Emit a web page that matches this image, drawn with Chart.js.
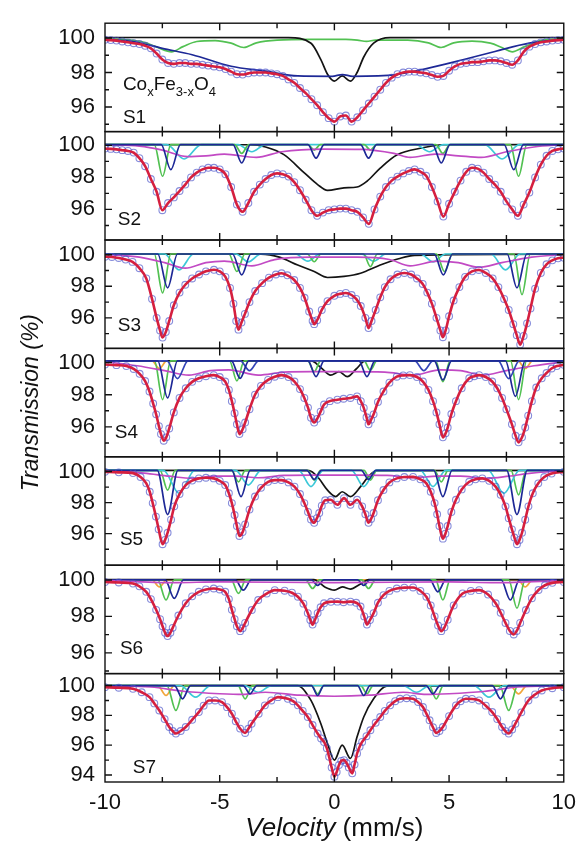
<!DOCTYPE html>
<html lang="en">
<head>
<meta charset="UTF-8">
<title>Mössbauer spectra CoxFe3-xO4</title>
<style>
  html, body { margin: 0; padding: 0; background: #fff; }
  #chart-container { width: 584px; height: 843px; }
</style>
</head>
<body>
<div id="chart-container">
  <canvas id="spectra" width="584" height="843"></canvas>
</div>
<script src="https://cdn.jsdelivr.net/npm/chart.js"></script>
<script>
// velocity grid (mm/s) used by S1 and S2
const velGrid = [-10,-9.75,-9.5,-9.25,-9,-8.75,-8.5,-8.25,-8,-7.75,-7.5,-7.25,-7,-6.75,-6.5,-6.25,-6,-5.75,-5.5,-5.25,
  -5,-4.75,-4.5,-4.25,-4,-3.75,-3.5,-3.25,-3,-2.75,-2.5,-2.25,-2,-1.75,-1.5,-1.25,-1,-0.75,-0.5,-0.25,
  0,0.25,0.5,0.75,1,1.25,1.5,1.75,2,2.25,2.5,2.75,3,3.25,3.5,3.75,4,4.25,4.5,4.75,
  5,5.25,5.5,5.75,6,6.25,6.5,6.75,7,7.25,7.5,7.75,8,8.25,8.5,8.75,9,9.25,9.5,9.75,10];

// total transmission (%) - measured points and fitted envelope
const trS1 = [99.9,99.88,99.85,99.8,99.75,99.7,99.65,99.55,99.4,99.1,
  98.75,98.55,98.5,98.55,98.55,98.5,98.5,98.45,98.4,98.35,
  98.3,98.2,98.05,97.9,97.88,97.95,98.0,98.0,98.0,97.95,
  97.9,97.8,97.6,97.4,97.1,96.8,96.45,96.1,95.7,95.35,
  95.15,95.45,95.5,95.15,95.4,95.8,96.2,96.6,97.0,97.4,
  97.7,97.9,98.0,98.05,98.05,98.0,97.95,97.85,97.75,97.8,
  98.1,98.35,98.5,98.55,98.6,98.6,98.65,98.7,98.7,98.65,
  98.55,98.45,98.7,99.2,99.5,99.65,99.75,99.8,99.85,99.88,99.9];
const trS2 = [99.8,99.78,99.75,99.7,99.65,99.55,99.2,98.7,97.9,97.1,
  95.95,96.4,96.75,97.15,97.55,98.0,98.3,98.5,98.6,98.6,
  98.5,98.2,97.4,96.3,95.85,96.4,97.1,97.55,97.9,98.15,
  98.25,98.2,98.05,97.7,97.2,96.6,95.95,95.6,95.8,95.95,
  96.0,96.05,96.05,95.95,95.85,95.5,95.1,96.0,96.8,97.4,
  97.8,98.05,98.25,98.4,98.5,98.35,98.1,97.4,96.5,95.55,
  96.35,97.1,97.8,98.35,98.6,98.55,98.3,97.9,97.55,97.1,
  96.5,96.0,95.6,96.3,97.05,98.0,98.8,99.35,99.65,99.75,99.8];
const fitS3 = [[-10,99.88],[-9.7,99.86],[-9.4,99.8],[-9.1,99.7],[-8.8,99.55],[-8.5,99.15],[-8.2,98.5],[-7.95,97.2],[-7.75,96.0],[-7.6,95.2],
  [-7.49,94.75],[-7.35,95.1],[-7.2,95.8],[-7.0,96.8],[-6.75,97.6],[-6.5,98.1],[-6.2,98.5],[-5.9,98.75],[-5.6,98.95],[-5.25,99.05],
  [-5.0,98.95],[-4.75,98.6],[-4.55,97.9],[-4.4,96.9],[-4.28,95.8],[-4.18,95.25],[-4.05,95.7],[-3.9,96.25],[-3.7,97.0],[-3.45,97.7],
  [-3.15,98.2],[-2.85,98.55],[-2.55,98.75],[-2.3,98.83],[-2.05,98.7],[-1.75,98.4],[-1.5,97.9],[-1.3,97.27],[-1.1,96.4],[-0.95,95.8],
  [-0.88,95.6],[-0.75,95.85],[-0.55,96.5],[-0.3,97.06],[0,97.4],[0.25,97.52],[0.5,97.58],[0.75,97.45],[0.95,97.2],[1.15,96.75],
  [1.35,96.0],[1.49,95.35],[1.62,95.8],[1.8,96.5],[2.0,97.3],[2.2,97.95],[2.45,98.45],[2.75,98.75],[3.05,98.85],[3.35,98.75],
  [3.6,98.5],[3.85,98.15],[4.05,97.6],[4.25,96.9],[4.45,96.0],[4.62,95.2],[4.73,94.77],[4.85,95.2],[5.0,96.1],[5.2,97.1],
  [5.45,97.95],[5.7,98.6],[6.0,98.95],[6.3,99.04],[6.6,98.85],[6.9,98.5],[7.15,97.95],[7.4,97.2],[7.6,96.5],[7.8,95.6],
  [7.95,94.9],[8.1,94.3],[8.25,94.85],[8.4,95.65],[8.55,96.6],[8.75,97.85],[9.0,98.85],[9.25,99.4],[9.5,99.65],[9.75,99.78],[10,99.82]];
const fitS4 = [[-10,99.88],[-9.5,99.84],[-9.07,99.78],[-8.75,99.6],[-8.49,99.3],[-8.25,98.85],[-8.06,98.2],[-7.9,97.45],[-7.77,96.78],[-7.65,96.05],
  [-7.56,95.55],[-7.44,95.14],[-7.33,95.35],[-7.2,95.9],[-7.0,96.9],[-6.75,97.8],[-6.48,98.4],[-6.2,98.8],[-5.91,99.02],[-5.6,99.15],
  [-5.26,99.22],[-5.0,99.1],[-4.76,98.82],[-4.6,98.3],[-4.47,97.6],[-4.35,96.85],[-4.25,96.16],[-4.14,95.55],[-4.0,95.85],[-3.89,96.27],
  [-3.7,97.1],[-3.46,98.0],[-3.2,98.55],[-2.89,98.92],[-2.6,99.12],[-2.31,99.22],[-2.0,99.1],[-1.74,98.82],[-1.5,98.35],[-1.31,97.8],
  [-1.15,97.2],[-1.02,96.57],[-0.88,96.27],[-0.75,96.5],[-0.6,96.95],[-0.45,97.39],[-0.2,97.6],[0.13,97.69],[0.4,97.75],[0.7,97.8],
  [0.99,97.9],[1.15,97.6],[1.28,97.18],[1.4,96.6],[1.49,96.16],[1.6,96.45],[1.71,96.78],[1.9,97.55],[2.14,98.2],[2.4,98.75],
  [2.72,99.12],[3.0,99.2],[3.29,99.22],[3.6,99.1],[3.86,98.82],[4.1,98.3],[4.3,97.6],[4.45,96.9],[4.58,96.16],[4.73,95.35],
  [4.85,95.6],[4.94,95.96],[5.1,96.8],[5.3,97.6],[5.55,98.4],[5.88,99.02],[6.1,99.15],[6.31,99.22],[6.6,99.1],[6.88,98.82],
  [7.1,98.4],[7.31,97.8],[7.5,97.1],[7.74,96.16],[7.9,95.45],[8.03,95.04],[8.18,95.35],[8.32,95.96],[8.45,96.7],[8.61,97.6],
  [8.8,98.45],[9.04,99.02],[9.25,99.35],[9.47,99.63],[9.7,99.78],[10,99.86]];
const fitS5 = [[-10,99.98],[-9.4,99.95],[-8.78,99.9],[-8.45,99.65],[-8.2,99.24],[-8.05,98.7],[-7.92,97.97],[-7.78,97.1],[-7.66,96.28],[-7.49,95.32],
  [-7.38,95.6],[-7.27,96.06],[-7.12,96.9],[-6.98,97.76],[-6.75,98.55],[-6.48,99.13],[-6.2,99.42],[-5.91,99.56],[-5.6,99.6],[-5.26,99.56],
  [-5.0,99.4],[-4.76,99.13],[-4.6,98.6],[-4.47,97.97],[-4.35,97.2],[-4.25,96.49],[-4.14,95.85],[-4.0,96.1],[-3.89,96.6],[-3.7,97.55],
  [-3.46,98.39],[-3.2,98.95],[-2.89,99.34],[-2.6,99.45],[-2.31,99.45],[-2.0,99.3],[-1.74,99.03],[-1.5,98.55],[-1.31,97.97],[-1.15,97.4],
  [-1.02,96.91],[-0.88,96.7],[-0.76,97.0],[-0.66,97.33],[-0.55,97.8],[-0.4,98.15],[-0.16,98.18],[0.13,97.86],[0.42,98.29],[0.7,97.86],
  [0.99,98.18],[1.21,97.76],[1.35,97.25],[1.49,96.7],[1.6,96.95],[1.71,97.33],[1.9,98.15],[2.14,98.81],[2.4,99.3],[2.72,99.56],
  [3.05,99.65],[3.43,99.66],[3.75,99.5],[4.01,99.24],[4.2,98.7],[4.37,97.97],[4.48,97.25],[4.58,96.49],[4.73,95.68],[4.84,96.0],
  [4.94,96.49],[5.1,97.4],[5.3,98.18],[5.55,98.85],[5.88,99.34],[6.15,99.5],[6.45,99.56],[6.75,99.4],[7.03,99.03],[7.25,98.5],
  [7.46,97.76],[7.6,97.0],[7.74,96.28],[7.85,95.75],[7.96,95.32],[8.07,95.6],[8.18,96.06],[8.32,96.9],[8.46,97.76],[8.65,98.6],
  [8.89,99.24],[9.15,99.65],[9.47,99.87],[10,99.98]];
const fitS6 = [[-10,99.89],[-9.4,99.86],[-8.78,99.8],[-8.5,99.65],[-8.2,99.35],[-8.0,98.95],[-7.77,98.36],[-7.6,97.85],[-7.49,97.46],[-7.38,97.1],
  [-7.27,96.92],[-7.15,97.1],[-7.05,97.37],[-6.8,98.05],[-6.48,98.72],[-6.2,99.1],[-5.91,99.35],[-5.6,99.48],[-5.26,99.53],[-5.0,99.48],
  [-4.76,99.35],[-4.6,98.95],[-4.47,98.36],[-4.35,97.85],[-4.25,97.46],[-4.11,97.19],[-4.0,97.35],[-3.89,97.64],[-3.6,98.35],[-3.32,98.9],
  [-2.95,99.25],[-2.6,99.44],[-2.17,99.41],[-1.85,99.3],[-1.59,99.08],[-1.35,98.7],[-1.16,98.18],[-1.05,97.8],[-0.95,97.55],[-0.85,97.8],
  [-0.73,98.18],[-0.6,98.5],[-0.45,98.72],[-0.15,98.8],[0.13,98.81],[0.4,98.78],[0.7,98.81],[0.95,98.75],[1.14,98.54],[1.3,98.0],
  [1.42,97.55],[1.55,97.8],[1.71,98.18],[1.9,98.75],[2.14,99.17],[2.4,99.4],[2.72,99.53],[3.05,99.58],[3.43,99.59],[3.75,99.4],
  [4.01,99.08],[4.2,98.6],[4.37,98.0],[4.52,97.5],[4.66,97.19],[4.8,97.4],[4.94,97.82],[5.2,98.6],[5.59,99.26],[5.95,99.4],
  [6.31,99.44],[6.7,99.2],[7.03,98.72],[7.25,98.2],[7.46,97.64],[7.65,97.2],[7.82,97.01],[7.95,97.2],[8.1,97.64],[8.35,98.35],
  [8.61,99.0],[8.9,99.45],[9.18,99.71],[9.5,99.84],[10,99.89]];
const fitS7 = [[-10,99.89],[-9.4,99.85],[-8.78,99.78],[-8.4,99.55],[-8.06,99.22],[-7.85,98.8],[-7.63,98.33],[-7.4,97.75],[-7.2,97.22],[-7.05,96.95],
  [-6.91,96.78],[-6.7,96.95],[-6.48,97.22],[-6.2,97.7],[-5.91,98.22],[-5.7,98.65],[-5.47,99.0],[-5.2,99.0],[-4.9,98.89],[-4.68,98.55],
  [-4.47,98.11],[-4.3,97.6],[-4.11,97.11],[-3.89,96.82],[-3.75,97.1],[-3.61,97.44],[-3.3,98.1],[-3.03,98.67],[-2.75,99.0],[-2.46,99.22],
  [-2.03,99.11],[-1.8,98.95],[-1.59,98.67],[-1.38,98.3],[-1.16,97.89],[-0.95,97.35],[-0.73,96.78],[-0.58,96.45],[-0.45,96.22],[-0.33,95.8],
  [-0.23,95.22],[-0.12,94.5],[0,93.89],[0.1,94.2],[0.2,94.67],[0.3,94.95],[0.42,95.0],[0.53,94.8],[0.63,94.51],[0.78,94.11],
  [0.88,94.7],[0.99,95.44],[1.1,95.9],[1.21,96.22],[1.4,96.6],[1.57,97.0],[1.8,97.5],[2.0,97.89],[2.2,98.3],[2.43,98.67],
  [2.65,98.95],[2.86,99.11],[3.15,99.15],[3.43,99.11],[3.65,98.9],[3.86,98.56],[4.0,98.15],[4.15,97.67],[4.3,97.2],[4.44,96.82],
  [4.58,96.95],[4.73,97.22],[5.0,97.95],[5.3,98.67],[5.5,98.95],[5.73,99.11],[6.0,99.1],[6.31,99.0],[6.6,98.65],[6.88,98.22],
  [7.1,97.75],[7.31,97.22],[7.45,96.95],[7.6,96.78],[7.75,97.05],[7.89,97.44],[8.15,98.2],[8.46,99.0],[8.75,99.4],[9.04,99.67],
  [9.5,99.82],[10,99.89]];

// fitted sub-spectra [velocity, transmission]
const s1Green = [[-10,99.95],[-9,99.9],[-8.3,99.75],[-7.7,99.45],[-7.1,99.2],[-6.6,99.5],[-6,99.8],[-5.2,99.85],[-4.5,99.7],[-3.95,99.45],[-3.4,99.72],[-2.5,99.88],[-1,99.92],[0.5,99.92],[1,99.88],[1.4,99.8],[1.8,99.88],[3.2,99.88],[4.1,99.72],[4.65,99.45],[5.2,99.72],[6,99.82],[6.8,99.7],[7.3,99.45],[7.75,99.2],[8.3,99.5],[9,99.85],[10,99.95]];
const s1Navy = [[-10,99.9],[-8.8,99.8],[-7.5,99.4],[-6.2,99.03],[-4.5,98.36],[-3,98.08],[-1.6,97.8],[-0.1,97.78],[0.35,97.88],[0.8,97.78],[2.7,97.88],[4.15,98.27],[5.6,98.74],[7,99.22],[8.5,99.7],[10,99.9]];
const s1Black = [[-10,100.03],[-2,100.02],[-1.02,99.7],[-0.59,98.75],[-0.3,97.9],[0,97.5],[0.34,97.8],[0.7,97.5],[0.99,98.0],[1.28,98.9],[1.71,99.7],[2.43,100.02],[10,100.03]];

const s2Green = [[-10,100.05],[-7.85,100.05],[-7.49,98.07],[-7.13,100.05],[-4.35,100.05],[-4.04,99.5],[-3.73,100.05],[-1.15,100.05],[-0.88,99.7],[-0.61,100.05],[1.3,100.05],[1.57,99.7],[1.84,100.05],[4.42,100.05],[4.73,99.5],[5.04,100.05],[7.67,100.05],[8.03,98.07],[8.39,100.05],[10,100.05]];
const s2Navy = [[-10,100.05],[-7.55,100.05],[-7.13,98.48],[-6.71,100.05],[-4.42,100.05],[-4.04,98.9],[-3.66,100.05],[-1.15,100.05],[-0.8,99.2],[-0.45,100.05],[1.14,100.05],[1.49,99.2],[1.84,100.05],[4.28,100.05],[4.66,98.9],[5.04,100.05],[7.4,100.05],[7.82,98.48],[8.24,100.05],[10,100.05]];
const s2Cyan = [[-10,100.05],[-7.3,100.05],[-6.55,99.15],[-5.8,100.05],[-4.2,100.05],[-3.6,99.6],[-3.0,100.05],[3.55,100.05],[4.15,99.6],[4.75,100.05],[6.56,100.05],[7.31,99.15],[8.06,100.05],[10,100.05]];
const s2Magenta = [[-10,100.05],[-8.5,99.95],[-7.5,99.7],[-6.4,99.3],[-5.6,99.35],[-4.8,99.45],[-3.4,99.25],[-2.3,99.6],[-0.5,99.77],[1.2,99.75],[2.6,99.5],[3.3,99.25],[4.4,99.45],[5.4,99.35],[6.4,99.25],[7.5,99.6],[8.7,99.9],[10,100.05]];
const s2Black = [[-10,100.05],[-3.7,100.04],[-3.0,99.9],[-2.2,99.42],[-1.31,98.28],[-0.73,97.55],[-0.3,97.19],[0.42,97.35],[0.99,97.4],[1.42,97.76],[2.0,98.58],[2.72,99.4],[3.86,99.85],[4.7,100.04],[10,100.05]];

const s3Green = [[-10,100.05],[-7.85,100.05],[-7.49,97.58],[-7.13,100.05],[-4.6,100.05],[-4.25,98.94],[-3.9,100.05],[-1.18,100.05],[-0.88,99.56],[-0.58,100.05],[1.27,100.05],[1.57,99.25],[1.87,100.05],[4.45,100.05],[4.8,98.94],[5.15,100.05],[7.82,100.05],[8.18,97.48],[8.54,100.05],[10,100.05]];
const s3Navy = [[-10,100.05],[-7.7,100.05],[-7.27,97.9],[-6.84,100.05],[-4.44,100.05],[-4.04,98.73],[-3.64,100.05],[4.35,100.05],[4.75,98.73],[5.15,100.05],[7.53,100.05],[7.96,97.9],[8.39,100.05],[10,100.05]];
const s3Cyan = [[-10,100.05],[-7.4,100.05],[-6.77,99.04],[-6.14,100.05],[-4.3,100.05],[-3.75,99.55],[-3.2,100.05],[-1.7,100.05],[-1.16,99.6],[-0.62,100.05],[1.17,100.05],[1.71,99.6],[2.25,100.05],[3.75,100.05],[4.3,99.55],[4.85,100.05],[6.83,100.05],[7.46,99.04],[8.09,100.05],[10,100.05]];
const s3Magenta = [[-10,100.02],[-8.5,99.85],[-7.4,99.5],[-6.5,99.15],[-5.6,99.5],[-4.8,99.6],[-3.6,99.3],[-2.6,99.7],[-1,99.85],[1,99.85],[2.4,99.7],[3.3,99.3],[4.5,99.6],[5.4,99.5],[6.3,99.2],[7.3,99.5],[8.6,99.85],[10,100.02]];
const s3Black = [[-10,100.05],[-3.2,100.04],[-2.4,99.85],[-1.6,99.35],[-0.88,98.94],[-0.3,98.56],[0.42,98.63],[1.14,98.83],[2.0,99.35],[2.8,99.75],[3.5,99.97],[10,100.05]];

const s4Green = [[-10,100.1],[-7.84,100.1],[-7.49,97.7],[-7.14,100.1],[-4.57,100.1],[-4.25,98.86],[-3.93,100.1],[-1.16,100.1],[-0.88,99.43],[-0.6,100.1],[1.29,100.1],[1.57,99.53],[1.85,100.1],[4.41,100.1],[4.73,98.82],[5.05,100.1],[7.68,100.1],[8.03,97.7],[8.38,100.1],[10,100.1]];
const s4Navy = [[-10,100.1],[-7.7,100.1],[-7.27,97.8],[-6.84,100.1],[-4.49,100.1],[-4.11,99.02],[-3.73,100.1],[-1.15,100.1],[-0.8,99.12],[-0.45,100.1],[1.07,100.1],[1.42,99.12],[1.77,100.1],[4.35,100.1],[4.73,98.92],[5.11,100.1],[7.46,100.1],[7.89,97.9],[8.32,100.1],[10,100.1]];
const s4Blue = [[-10,100.1],[-7.3,100.1],[-6.84,99.0],[-6.38,100.1],[-4.1,100.1],[-3.7,99.5],[-3.3,100.1],[3.5,100.1],[3.9,99.5],[4.3,100.1],[7.14,100.1],[7.6,99.0],[8.06,100.1],[10,100.1]];
const s4Magenta = [[-10,100.05],[-8.6,99.8],[-7.4,99.5],[-6.34,99.22],[-5.4,99.5],[-4.6,99.55],[-3.32,99.22],[-2.2,99.4],[-1,99.43],[0.5,99.43],[2.2,99.4],[3.43,99.22],[4.6,99.55],[5.5,99.5],[6.45,99.22],[7.5,99.5],[8.7,99.8],[10,100.05]];
const s4Black = [[-10,100.1],[-1.0,100.1],[-0.6,99.7],[-0.16,99.22],[0.2,99.43],[0.56,99.12],[0.95,99.6],[1.35,100.1],[10,100.1]];
const s4Orange = [[-10,100.1],[-7.95,100.1],[-7.63,99.63],[-7.31,100.1],[8.0,100.1],[8.32,99.63],[8.64,100.1],[10,100.1]];

const s5Navy = [[-10,100.08],[-7.72,100.08],[-7.27,97.23],[-6.82,100.08],[-4.47,100.08],[-4.07,98.39],[-3.67,100.08],[-1.2,100.08],[-0.88,99.5],[-0.56,100.08],[1.17,100.08],[1.49,99.5],[1.81,100.08],[4.33,100.08],[4.73,98.39],[5.13,100.08],[7.51,100.08],[7.96,97.23],[8.41,100.08],[10,100.08]];
const s5Cyan = [[-10,100.08],[-7.45,100.08],[-6.77,98.6],[-6.09,100.08],[-4.3,100.08],[-3.75,99.13],[-3.2,100.08],[-1.55,100.08],[-1.02,99.03],[-0.49,100.08],[0.75,100.08],[1.28,99.03],[1.81,100.08],[3.75,100.08],[4.3,99.03],[4.85,100.08],[6.71,100.08],[7.39,98.6],[8.07,100.08],[10,100.08]];
const s5Green = [[-10,100.08],[-7.6,100.08],[-7.27,98.81],[-6.94,100.08],[-4.48,100.08],[-4.18,99.34],[-3.88,100.08],[-1.16,100.08],[-0.88,99.45],[-0.6,100.08],[1.29,100.08],[1.57,99.45],[1.85,100.08],[4.36,100.08],[4.66,99.34],[4.96,100.08],[7.7,100.08],[8.03,98.5],[8.36,100.08],[10,100.08]];
const s5Magenta = [[-10,100.05],[-8.3,99.9],[-7.2,99.7],[-6.19,99.56],[-5.2,99.7],[-4.3,99.7],[-3.32,99.6],[-2.2,99.75],[-1,99.77],[1,99.77],[2.3,99.75],[3.43,99.6],[4.5,99.7],[5.5,99.7],[6.6,99.56],[7.6,99.7],[8.6,99.9],[10,100.05]];
const s5Black = [[-10,100.08],[-1.1,100.06],[-0.7,99.6],[-0.3,98.8],[0.06,98.39],[0.34,98.7],[0.7,98.39],[1.14,99.03],[1.5,99.7],[1.85,100.06],[10,100.08]];

const s6Green = [[-10,100],[-7.7,100],[-7.34,98.9],[-6.98,100],[-4.5,100],[-4.18,99.26],[-3.86,100],[-1.25,100],[-0.95,99.53],[-0.65,100],[1.19,100],[1.49,99.53],[1.79,100],[4.41,100],[4.73,98.9],[5.05,100],[7.6,100],[7.96,98.45],[8.32,100],[10,100]];
const s6Navy = [[-10,100],[-7.38,100],[-6.98,98.99],[-6.58,100],[-4.32,100],[-3.97,99.44],[-3.62,100],[-1.0,100],[-0.73,99.7],[-0.46,100],[1.01,100],[1.28,99.7],[1.55,100],[4.16,100],[4.51,99.35],[4.86,100],[7.27,100],[7.67,98.9],[8.07,100],[10,100]];
const s6Black = [[-10,100.02],[-0.9,100.02],[-0.4,99.6],[0,99.44],[0.35,99.62],[0.7,99.5],[1.1,99.75],[1.5,100.02],[10,100.02]];
const s6Magenta = [[-10,99.98],[-7,99.85],[-5,99.9],[0,99.85],[5,99.9],[7,99.85],[10,99.98]];
const s6Orange = [[-10,100],[-7.95,100],[-7.63,99.62],[-7.31,100],[8.0,100],[8.32,99.62],[8.64,100],[10,100]];

const s7Green = [[-10,100],[-7.3,100],[-6.91,98.33],[-6.52,100],[-4.2,100],[-3.89,99.11],[-3.58,100],[-1.0,100],[-0.73,99.44],[-0.46,100],[1.15,100],[1.42,99.44],[1.69,100],[4.13,100],[4.44,99.11],[4.75,100],[7.21,100],[7.6,98.33],[7.99,100],[10,100]];
const s7Navy = [[-10,100],[-6.97,100],[-6.62,99.11],[-6.27,100],[-3.98,100],[-3.68,99.44],[-3.38,100],[-1.0,100],[-0.73,99.33],[-0.46,100],[1.01,100],[1.28,99.33],[1.55,100],[4.0,100],[4.3,99.44],[4.6,100],[6.89,100],[7.24,99.11],[7.59,100],[10,100]];
const s7Cyan = [[-10,100],[-6.7,100],[-6.05,99.22],[-5.4,100],[-3.9,100],[-3.32,99.55],[-2.74,100],[3.0,100],[3.58,99.55],[4.16,100],[6.09,100],[6.74,99.22],[7.39,100],[10,100]];
const s7Magenta = [[-10,100],[-8,99.9],[-6.5,99.6],[-5,99.45],[-4,99.4],[-3,99.55],[-1.5,99.35],[0,99.28],[1.5,99.35],[3,99.55],[4,99.4],[5,99.45],[6.5,99.6],[8,99.9],[10,100]];
const s7Orange = [[-10,100],[-7.7,100],[-7.34,99.33],[-6.98,100],[7.67,100],[8.03,99.44],[8.39,100],[10,100]];
const s7Black = [[-10,100],[-1.6,100],[-1.02,99.0],[-0.59,97.44],[-0.3,96.11],[0,95.0],[0.34,96.0],[0.7,95.11],[0.99,96.56],[1.28,97.89],[1.71,99.11],[2.28,99.95],[10,100]];

// axis ticks
const velTicks = [-7.5, -5, -2.5, 0, 2.5, 5, 7.5];
const trMajor = [100, 98, 96];
const trMajorS7 = [100, 98, 96, 94];
const trMinor = [99, 97, 95];
const formula = [['Co', false], ['x', true], ['Fe', false], ['3-x', true], ['O', false], ['4', true]];

const FONT = "'Liberation Sans', Arial, Helvetica, sans-serif";
const RED = '#d51f3f', DOTS = 'rgba(70,80,200,0.65)', NAVY = '#1d2896', GREEN = '#52c152',
      CYAN = '#3cc8d8', MAGENTA = '#c24ac4', BLACK = '#141414', ORANGE = '#f2a63c', BLUE = '#3344b8';

const toXY = pts => pts.map(p => ({ x: p[0], y: p[1] }));
const gridXY = vals => vals.map((y, i) => ({ x: velGrid[i], y: y }));

// first part in each list is drawn on top
const panels = [
  { id: 'y1', name: 'S1', fit: () => gridXY(trS1), min: 94.57, max: 100.86, majors: trMajor, labelAt: [-9.22, 95.07],
    parts: [[s1Navy, NAVY], [s1Black, BLACK], [s1Green, GREEN]] },
  { id: 'y2', name: 'S2', fit: () => gridXY(trS2), min: 94.09, max: 100.86, majors: trMajor, labelAt: [-9.44, 95.02],
    parts: [[s2Navy, NAVY], [s2Magenta, MAGENTA], [s2Green, GREEN], [s2Cyan, CYAN], [s2Black, BLACK]] },
  { id: 'y3', name: 'S3', fit: () => toXY(fitS3), min: 94.06, max: 100.94, majors: trMajor, labelAt: [-9.44, 95.19],
    parts: [[s3Navy, NAVY], [s3Magenta, MAGENTA], [s3Green, GREEN], [s3Cyan, CYAN], [s3Black, BLACK]] },
  { id: 'y4', name: 'S4', fit: () => toXY(fitS4), min: 94.14, max: 100.88, majors: trMajor, labelAt: [-9.57, 95.31],
    parts: [[s4Navy, NAVY], [s4Blue, BLUE], [s4Magenta, MAGENTA], [s4Green, GREEN], [s4Black, BLACK], [s4Orange, ORANGE]] },
  { id: 'y5', name: 'S5', fit: () => toXY(fitS5), min: 93.97, max: 100.95, majors: trMajor, labelAt: [-9.35, 95.3],
    parts: [[s5Navy, NAVY], [s5Magenta, MAGENTA], [s5Cyan, CYAN], [s5Green, GREEN], [s5Black, BLACK]] },
  { id: 'y6', name: 'S6', fit: () => toXY(fitS6), min: 94.86, max: 100.81, majors: trMajor, labelAt: [-9.35, 95.95],
    parts: [[s6Magenta, MAGENTA], [s6Navy, NAVY], [s6Green, GREEN], [s6Black, BLACK], [s6Orange, ORANGE]] },
  { id: 'y7', name: 'S7', fit: () => toXY(fitS7), min: 93.53, max: 100.8, majors: trMajorS7, labelAt: [-8.79, 94.13],
    parts: [[s7Navy, NAVY], [s7Magenta, MAGENTA], [s7Cyan, CYAN], [s7Green, GREEN], [s7Black, BLACK], [s7Orange, ORANGE]] }
];

const datasets = [];
panels.forEach(p => {
  datasets.push({ label: p.name + ' fit', data: p.fit(), yAxisID: p.id, borderColor: RED, borderWidth: 2.6,
    pointRadius: 0, cubicInterpolationMode: 'monotone', order: 0 });
  datasets.push({ label: p.name + ' data', data: p.fit(), yAxisID: p.id, showLine: false, pointRadius: 3.4,
    pointBorderWidth: 1.1, pointBorderColor: DOTS, pointBackgroundColor: 'rgba(255,255,255,0)', order: 1 });
  p.parts.forEach(([pts, color], k) => {
    datasets.push({ label: p.name + ' sub ' + k, data: toXY(pts), yAxisID: p.id, borderColor: color, borderWidth: 1.7,
      pointRadius: 0, cubicInterpolationMode: 'monotone', order: 2 });
  });
});

const scales = {
  x: {
    type: 'linear', position: 'bottom', min: -10, max: 10,
    ticks: { stepSize: 5, color: '#111', font: { size: 22 }, padding: 8, maxRotation: 0 },
    grid: { display: false, drawTicks: false },
    border: { display: false },
    afterFit: s => { s.height = 61; }
  }
};
panels.forEach((p, i) => {
  scales[p.id] = {
    type: 'linear', position: 'left', stack: 'spectra', stackWeight: 1, weight: panels.length - i,
    min: p.min, max: p.max,
    afterBuildTicks: s => { s.ticks = p.majors.map(v => ({ value: v })); },
    ticks: { autoSkip: false, color: '#111', font: { size: 22 }, padding: 10 },
    grid: { display: false, drawTicks: false },
    border: { display: false },
    title: { display: p.id === 'y4', text: 'Transmission (%)', color: '#111',
             font: { size: 23, style: 'italic' }, padding: { top: 18, bottom: 0 } },
    afterFit: s => { s.width = 105; }
  };
});

// panel frames with inward ticks
const framePlugin = {
  id: 'frames',
  afterDatasetsDraw(chart) {
    const { ctx, chartArea: a, scales: sc } = chart;
    ctx.save();
    ctx.strokeStyle = '#111';
    ctx.lineWidth = 1.4;
    panels.forEach(p => {
      const ys = sc[p.id];
      const t = ys.top, b = ys.bottom;
      ctx.strokeRect(a.left, t, a.right - a.left, b - t);
      ctx.beginPath();
      velTicks.forEach(v => {
        const px = sc.x.getPixelForValue(v);
        const len = v % 5 === 0 ? 7 : 5;
        ctx.moveTo(px, t); ctx.lineTo(px, t + len);
        ctx.moveTo(px, b); ctx.lineTo(px, b - len);
      });
      p.majors.forEach(v => {
        const py = ys.getPixelForValue(v);
        ctx.moveTo(a.left, py); ctx.lineTo(a.left + 7, py);
        ctx.moveTo(a.right, py); ctx.lineTo(a.right - 7, py);
      });
      trMinor.forEach(v => {
        const py = ys.getPixelForValue(v);
        ctx.moveTo(a.left, py); ctx.lineTo(a.left + 4, py);
        ctx.moveTo(a.right, py); ctx.lineTo(a.right - 4, py);
      });
      ctx.stroke();
    });
    ctx.restore();
  }
};

// sample names, composition and x title
const textPlugin = {
  id: 'texts',
  afterDraw(chart) {
    const { ctx, scales: sc, chartArea: a } = chart;
    ctx.save();
    ctx.fillStyle = '#111';
    ctx.textAlign = 'left';
    ctx.textBaseline = 'alphabetic';
    ctx.font = '19px ' + FONT;
    panels.forEach(p => {
      ctx.fillText(p.name, sc.x.getPixelForValue(p.labelAt[0]), sc[p.id].getPixelForValue(p.labelAt[1]));
    });
    let fx = sc.x.getPixelForValue(-9.22);
    const fy = sc.y1.getPixelForValue(96.98);
    formula.forEach(([txt, sub]) => {
      ctx.font = (sub ? '13px ' : '19px ') + FONT;
      ctx.fillText(txt, fx, fy + (sub ? 6 : 0));
      fx += ctx.measureText(txt).width;
    });
    // x axis title: "Velocity" italic, unit upright
    const part1 = 'Velocity', part2 = ' (mm/s)';
    ctx.font = 'italic 26px ' + FONT;
    const w1 = ctx.measureText(part1).width;
    ctx.font = '26px ' + FONT;
    const w2 = ctx.measureText(part2).width;
    const tx = (a.left + a.right) / 2 - (w1 + w2) / 2;
    ctx.font = 'italic 26px ' + FONT;
    ctx.fillText(part1, tx, 836);
    ctx.font = '26px ' + FONT;
    ctx.fillText(part2, tx + w1, 836);
    ctx.restore();
  }
};

Chart.defaults.font.family = FONT;

new Chart(document.getElementById('spectra').getContext('2d'), {
  type: 'line',
  data: { datasets: datasets },
  options: {
    responsive: false,
    animation: false,
    devicePixelRatio: 1,
    layout: { padding: { left: 0, right: 15, top: 13, bottom: 0 } },
    plugins: { legend: { display: false }, tooltip: { enabled: false } },
    scales: scales
  },
  plugins: [framePlugin, textPlugin]
});
</script>
</body>
</html>
